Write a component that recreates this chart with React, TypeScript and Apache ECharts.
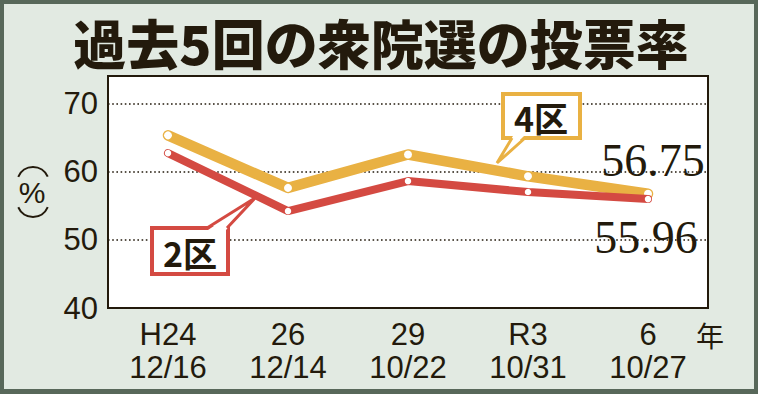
import React, { useEffect, useRef } from 'react';
import * as echarts from 'echarts';

const title = '過去5回の衆院選の投票率';
const categories = ['H24\n12/16', '26\n12/14', '29\n10/22', 'R3\n10/31', '6\n10/27'];
const district4 = [65.3, 57.6, 62.5, 59.3, 56.75];
const district2 = [62.7, 54.2, 58.6, 57.0, 55.96];
const seriesNames = ['4区', '2区'];
const yTickLabels = [40, 50, 60, 70];

const DARK = '#231a0c';
const ORANGE = '#e9b143';
const RED = '#d44a42';
const BG = '#e2eae2';
const FRAME = '#58685a';

function buildData(values: number[], offset: number[]) {
  const last = values.length - 1;
  return values.map((v, i) =>
    i === last
      ? {
          value: v,
          label: {
            show: true,
            position: 'inside',
            offset,
            formatter: (p: any) => Number(p.value).toFixed(2),
            fontFamily: '"Liberation Serif", "DejaVu Serif", serif',
            fontSize: 46,
            color: DARK,
          },
        }
      : v
  );
}

export default function App() {
  const ref = useRef<HTMLDivElement>(null);
  useEffect(() => {
    if (!ref.current) return;
    const chart = echarts.init(ref.current, null, { renderer: 'svg' });
    const option: any = {
      animation: false,
      backgroundColor: BG,
      grid: {
        left: 108,
        top: 76,
        width: 600,
        height: 232,
        show: true,
        backgroundColor: '#ffffff',
        borderColor: DARK,
        borderWidth: 2,
      },
      xAxis: {
        type: 'category',
        data: categories,
        boundaryGap: true,
        axisLine: { show: false },
        axisTick: { show: false },
        axisLabel: {
          color: DARK,
          fontSize: 31,
          lineHeight: 33,
          margin: 10,
          fontFamily: '"Liberation Sans", Arial, sans-serif',
        },
      },
      yAxis: {
        type: 'value',
        min: 40,
        max: 74,
        interval: 10,
        axisLine: { show: false },
        axisTick: { show: false },
        axisLabel: {
          color: DARK,
          fontSize: 31,
          margin: 10,
          fontFamily: '"Liberation Sans", Arial, sans-serif',
          formatter: (v: number) => (yTickLabels.includes(v) ? String(v) : ''),
        },
        splitLine: {
          show: true,
          lineStyle: { color: DARK, width: 1.6, type: [1.6, 2.6] },
        },
      },
      series: [
        {
          name: seriesNames[0],
          type: 'line',
          data: buildData(district4, [5, -33]),
          symbol: 'circle',
          symbolSize: 8,
          itemStyle: { color: '#ffffff', borderWidth: 0 },
          lineStyle: { color: ORANGE, width: 10.5, cap: 'round', join: 'round' },
          z: 3,
        },
        {
          name: seriesNames[1],
          type: 'line',
          data: buildData(district2, [-2, 38]),
          symbol: 'circle',
          symbolSize: 6.5,
          itemStyle: { color: '#ffffff', borderWidth: 0 },
          lineStyle: { color: RED, width: 8, cap: 'round', join: 'round' },
          z: 4,
        },
      ],
      graphic: [
        // outer frame
        { type: 'rect', z: 200, shape: { x: 0, y: 0, width: 758, height: 4 }, style: { fill: FRAME } },
        { type: 'rect', z: 200, shape: { x: 0, y: 389, width: 758, height: 5 }, style: { fill: FRAME } },
        { type: 'rect', z: 200, shape: { x: 0, y: 0, width: 4, height: 394 }, style: { fill: FRAME } },
        { type: 'rect', z: 200, shape: { x: 754, y: 0, width: 4, height: 394 }, style: { fill: FRAME } },
        // title
        {
          type: 'text',
          z: 100,
          x: 381,
          y: 42,
          style: {
            text: title,
            fill: DARK,
            font: '900 53px "Noto Sans CJK JP", sans-serif',
            align: 'center',
            verticalAlign: 'middle',
          },
        },
        // (%) unit
        {
          type: 'arc',
          z: 100,
          shape: { cx: 33, cy: 183, r: 16, startAngle: 3.54, endAngle: 5.88, clockwise: true },
          style: { stroke: DARK, lineWidth: 2, fill: 'none' },
        },
        {
          type: 'arc',
          z: 100,
          shape: { cx: 33, cy: 201, r: 16, startAngle: 0.4, endAngle: 2.74, clockwise: true },
          style: { stroke: DARK, lineWidth: 2, fill: 'none' },
        },
        {
          type: 'text',
          z: 100,
          x: 32,
          y: 192,
          style: {
            text: '%',
            fill: DARK,
            font: '30px "Liberation Sans", Arial, sans-serif',
            align: 'center',
            verticalAlign: 'middle',
          },
        },
        // 年
        {
          type: 'text',
          z: 100,
          x: 710,
          y: 335,
          style: {
            text: '年',
            fill: DARK,
            font: '28px "Noto Sans CJK JP", sans-serif',
            align: 'center',
            verticalAlign: 'middle',
          },
        },
        // 2区 callout
        {
          type: 'rect',
          z: 100,
          shape: { x: 152, y: 228, width: 76, height: 46 },
          style: { fill: '#ffffff', stroke: RED, lineWidth: 4 },
        },
        {
          type: 'polygon',
          z: 101,
          shape: { points: [[208, 230], [254, 199], [226, 230]] },
          style: { fill: '#ffffff' },
        },
        {
          type: 'polyline',
          z: 102,
          shape: { points: [[207, 228], [255, 198], [227, 228]] },
          style: { stroke: RED, lineWidth: 3, fill: 'none', lineJoin: 'miter' },
        },
        {
          type: 'text',
          z: 103,
          x: 190,
          y: 252,
          style: {
            text: seriesNames[1],
            fill: DARK,
            font: 'bold 34px "Noto Sans CJK JP", sans-serif',
            align: 'center',
            verticalAlign: 'middle',
          },
        },
        // 4区 callout
        {
          type: 'rect',
          z: 100,
          shape: { x: 503, y: 94, width: 77, height: 44 },
          style: { fill: '#ffffff', stroke: ORANGE, lineWidth: 4 },
        },
        {
          type: 'polygon',
          z: 101,
          shape: { points: [[513, 136], [498, 161], [524, 136]] },
          style: { fill: '#ffffff' },
        },
        {
          type: 'polyline',
          z: 102,
          shape: { points: [[512, 138], [497, 163], [525, 138]] },
          style: { stroke: ORANGE, lineWidth: 3, fill: 'none', lineJoin: 'miter' },
        },
        {
          type: 'text',
          z: 103,
          x: 541,
          y: 117,
          style: {
            text: seriesNames[0],
            fill: DARK,
            font: 'bold 34px "Noto Sans CJK JP", sans-serif',
            align: 'center',
            verticalAlign: 'middle',
          },
        },
      ],
    };
    chart.setOption(option);
    return () => chart.dispose();
  }, []);
  return (
    <div
      ref={ref}
      style={{ position: 'fixed', left: 0, top: 0, width: 758, height: 394 }}
    />
  );
}
